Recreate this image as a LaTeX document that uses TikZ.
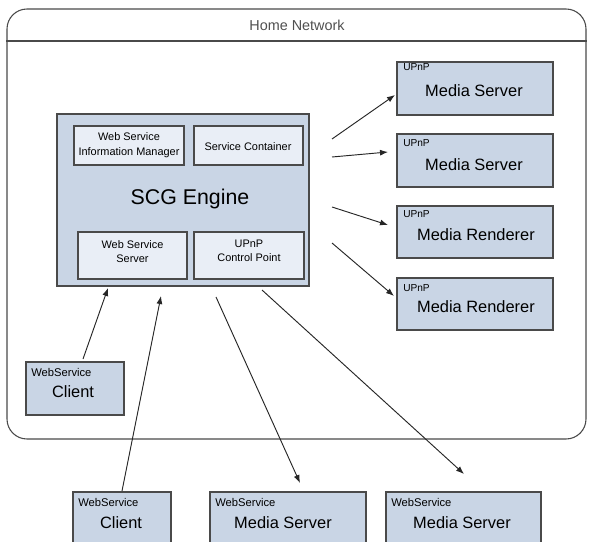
\documentclass[tikz,border=0pt]{standalone}
\usepackage{fontspec}
\setmainfont{Liberation Sans}
\usetikzlibrary{arrows.meta,fit,calc}
\definecolor{boxfill}{HTML}{C9D5E5}
\definecolor{innerfill}{HTML}{E9EEF6}
\definecolor{edgegray}{HTML}{4A4A4A}
\definecolor{titlegray}{HTML}{505050}
\begin{document}
\begin{tikzpicture}[x=0.75pt,y=-0.75pt,
  frame/.style={draw=edgegray,line width=0.8pt,inner sep=0pt,fill=white,rounded corners=15pt},
  devbox/.style={draw=edgegray,line width=0.8pt,inner sep=0pt,fill=boxfill},
  modbox/.style={draw=edgegray,line width=0.8pt,inner sep=0pt,fill=innerfill},
  tag/.style={inner sep=0pt,anchor=west,font=\fontsize{7.6}{9}\selectfont},
  devname/.style={inner sep=0pt,font=\fontsize{12.3}{14}\selectfont},
  modtext/.style={inner sep=0pt,align=center,font=\fontsize{8.2}{10.5}\selectfont},
  arr/.style={draw=black!85,line width=0.7pt,-{Latex[length=6pt,width=4.5pt]}}]
\useasboundingbox (0,0) rectangle (589,542);
\clip (0,0) rectangle (589,542);

% Home network frame with title bar
\node[frame,fit={(7,9) (586,439)}] (home) {};
\draw[draw=edgegray,line width=0.8pt] (home.west |- 0,41) -- (home.east |- 0,41);
\node[inner sep=0pt,text=titlegray,font=\fontsize{10.8}{12}\selectfont] (hometitle) at (297,25) {Home Network};

% SCG engine and its modules
\node[devbox,fit={(57,114) (309,286)}] (engine) {};
\node[inner sep=0pt,font=\fontsize{16}{18}\selectfont] (enginename) at (190,199) {SCG Engine};
\node[modbox,fit={(74,126) (184,165)}] (wsim) {};
\node[modtext,font=\fontsize{8.2}{11}\selectfont] (wsimtext) at (129,145.5) {Web Service\\Information Manager};
\node[modbox,fit={(194,126) (303,165)}] (sc) {};
\node[modtext] (sctext) at (248,147) {Service Container};
\node[modbox,fit={(78,232) (187,279)}] (wss) {};
\node[modtext] (wsstext) at (132.5,251.5) {Web Service\\Server};
\node[modbox,fit={(194,232) (304,279)}] (cp) {};
\node[modtext] (cptext) at (249,250.5) {UPnP\\Control Point};

% UPnP devices
\node[devbox,fit={(397,62) (553,115)}] (ms1) {};
\node[tag] at (403,67) {UPnP};
\node[devname] at (474,91) {Media Server};
\node[devbox,fit={(397,134) (553,187)}] (ms2) {};
\node[tag] at (403,143) {UPnP};
\node[devname] at (474,165) {Media Server};
\node[devbox,fit={(397,206) (553,258)}] (mr1) {};
\node[tag] at (403,214) {UPnP};
\node[devname] at (476,235) {Media Renderer};
\node[devbox,fit={(397,278) (553,330)}] (mr2) {};
\node[tag] at (403,288) {UPnP};
\node[devname] at (476,307) {Media Renderer};

% Web service client inside the home network
\node[devbox,fit={(26,362) (124,415)}] (cl1) {};
\node[tag,font=\fontsize{8.4}{10}\selectfont] at (31,372) {WebService};
\node[devname] at (73,392) {Client};

% Web service peers outside the home network
\node[devbox,fit={(73,492) (171,560)}] (cl2) {};
\node[tag,font=\fontsize{8.4}{10}\selectfont] at (78,502) {WebService};
\node[devname] at (121,523) {Client};
\node[devbox,fit={(210,492) (366,560)}] (wms1) {};
\node[tag,font=\fontsize{8.4}{10}\selectfont] at (215,502) {WebService};
\node[devname] at (283,523) {Media Server};
\node[devbox,fit={(386,492) (541,560)}] (wms2) {};
\node[tag,font=\fontsize{8.4}{10}\selectfont] at (391,502) {WebService};
\node[devname] at (462,523) {Media Server};

% connector end points
\coordinate (t1) at (332,139); \coordinate (h1) at (395,95);
\coordinate (t2) at (332,157); \coordinate (h2) at (388,152);
\coordinate (t3) at (332,207); \coordinate (h3) at (388,225);
\coordinate (t4) at (332,243); \coordinate (h4) at (394,296);
\coordinate (t5) at (83,359);  \coordinate (h5) at (108,288);
\coordinate (t6) at (122,491); \coordinate (h6) at (161,296);
\coordinate (t7) at (216,297); \coordinate (h7) at (300,483);
\coordinate (t8) at (262,290); \coordinate (h8) at (464,474);

\draw[arr] (t1) -- (h1);
\draw[arr] (t2) -- (h2);
\draw[arr] (t3) -- (h3);
\draw[arr] (t4) -- (h4);
\draw[arr] (t5) -- (h5);
\draw[arr] (t6) -- (h6);
\draw[arr] (t7) -- (h7);
\draw[arr] (t8) -- (h8);
\end{tikzpicture}
\end{document}
